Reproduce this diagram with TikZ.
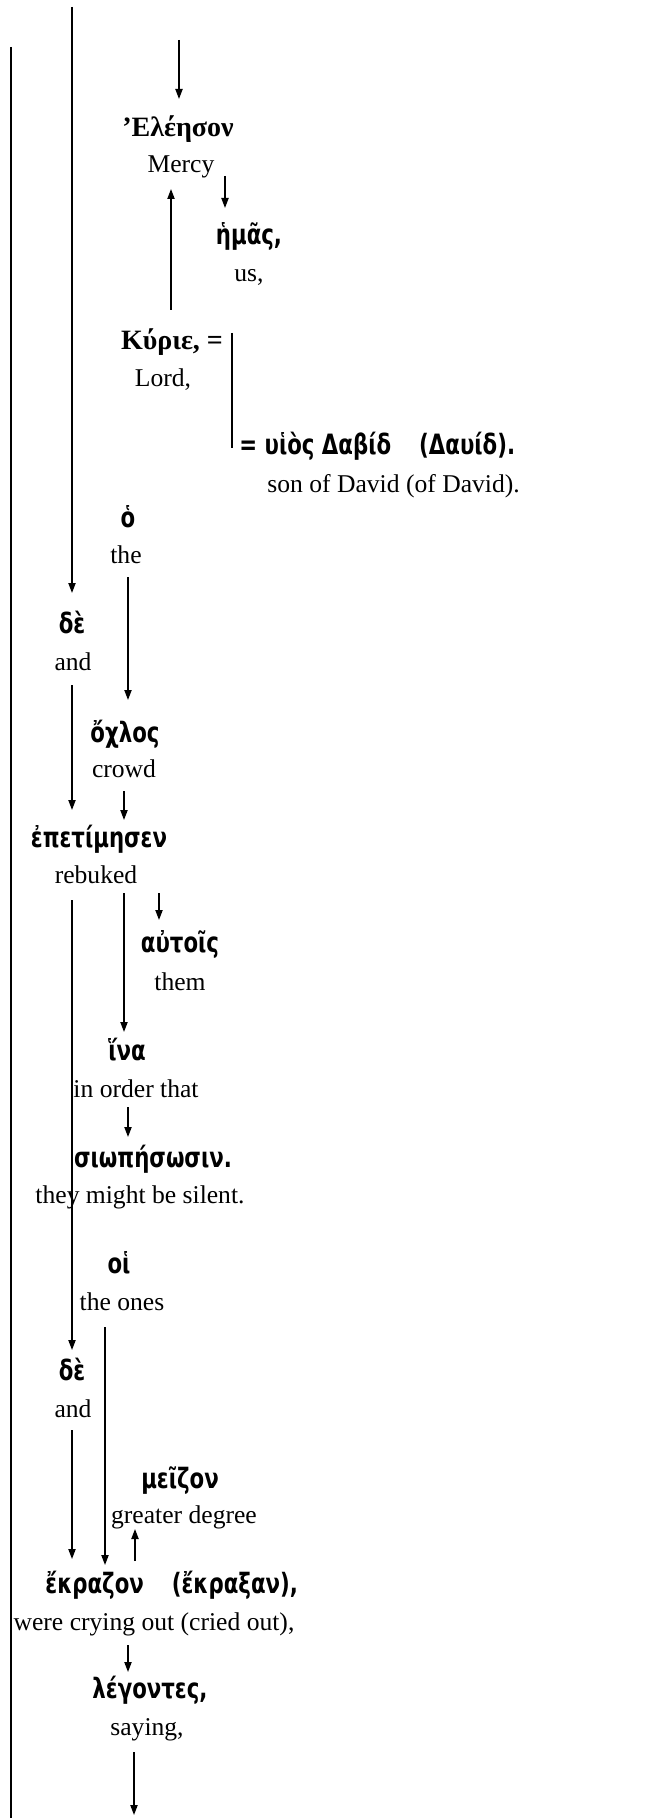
\documentclass[tikz,border=0pt]{standalone}
\usepackage{fontspec}
\setmainfont{Liberation Serif}
\newfontfamily\gk[FakeStretch=0.76]{DejaVu Sans}
\newfontfamily\gks{Liberation Serif}
\usetikzlibrary{calc,arrows.meta}
\begin{document}
\begin{tikzpicture}[x=0.5pt,y=-0.5pt,
 en/.style={anchor=base,inner sep=0pt,font=\fontsize{12.8}{15}\selectfont},
 gr/.style={anchor=base,inner sep=0pt,font=\fontsize{14}{16}\selectfont\gk\bfseries},
 grs/.style={anchor=base,inner sep=0pt,font=\fontsize{14}{16}\selectfont\gks\bfseries},
 arr/.style={line width=0.7pt,-{Triangle[length=5pt,width=3.6pt]}},
 ln/.style={line width=0.7pt}]
\useasboundingbox (0,0) rectangle (647,1818);
% nodes
\node[grs] (eleeson) at (178,137) {’Ελέησον};
\node[en] (mercy) at (181,173) {Mercy};
\node[gr] (hmas) at (249,245) {ἡμᾶς,};
\node[en] (us) at (249,282) {us,};
\node[grs] (kyrie) at (172,350) {Κύριε, =};
\node[en] (lord) at (163,387) {Lord,};
\node[gr,anchor=base west] (huios) at (239,455) {= υἱὸς Δαβίδ\quad(Δαυίδ).};
\node[en,anchor=base west] (sonof) at (267,492) {son of David (of David).};
\node[gr] (ho) at (128,527) {ὁ};
\node[en] (the) at (126,563) {the};
\node[gr] (de1) at (72,633) {δὲ};
\node[en] (and1) at (73,670) {and};
\node[gr] (ochlos) at (125,742) {ὄχλος};
\node[en] (crowd) at (124,777) {crowd};
\node[gr] (epet) at (99,847) {ἐπετίμησεν};
\node[en] (rebuked) at (96,883) {rebuked};
\node[gr] (autois) at (180,952) {αὐτοῖς};
\node[en] (them) at (180,990) {them};
\node[gr] (hina) at (127,1060) {ἵνα};
\node[en] (inorder) at (136,1097) {in order that};
\node[gr] (siop) at (153,1167) {σιωπήσωσιν.};
\node[en] (silent) at (140,1203) {they might be silent.};
\node[gr] (hoi) at (119,1273) {οἱ};
\node[en] (theones) at (122,1310) {the ones};
\node[gr] (de2) at (72,1380) {δὲ};
\node[en] (and2) at (73,1417) {and};
\node[gr] (meizon) at (180,1488) {μεῖζον};
\node[en] (greater) at (184,1523) {greater degree};
\node[gr,anchor=base west] (ekrazon) at (45,1593) {ἔκραζον\quad(ἔκραξαν),};
\node[en] (crying) at (154,1630) {were crying out (cried out),};
\node[gr] (legontes) at (150,1698) {λέγοντες,};
\node[en] (saying) at (147,1735) {saying,};
% free ends
\coordinate (l1top) at (11,47);
\coordinate (l1bot) at (11,1818);
\coordinate (l2top) at (72,7);
\coordinate (a1top) at (179,40);
\coordinate (a15end) at (134,1815);
% connectors
\draw[ln] (l1top) -- (l1bot);
\draw[arr] (l2top) -- ($(de1.base)+(0,-40)$);
\draw[arr] (a1top) -- ($(eleeson.base)+(1,-38)$);
\draw[arr] ($(mercy.base)+(44,3)$) -- ($(hmas.base)+(-24,-37)$);
\draw[arr] ($(kyrie.base)+(-1,-40)$) -- ($(mercy.base)+(-10,16)$);
\draw[ln] ($(kyrie.base)+(60,-17)$) -- ($(huios.base west)+(-7,-7)$);
\draw[arr] ($(the.base)+(2,14)$) -- ($(ochlos.base)+(3,-42)$);
\draw[arr] ($(and1.base)+(-1,15)$) -- ($(epet.base)+(-27,-37)$);
\draw[arr] ($(crowd.base)+(0,14)$) -- ($(epet.base)+(25,-27)$);
\draw[arr] ($(rebuked.base)+(-24,17)$) -- ($(de2.base)+(0,-30)$);
\draw[arr] ($(rebuked.base)+(28,10)$) -- ($(hina.base)+(-3,-28)$);
\draw[arr] ($(rebuked.base)+(63,10)$) -- ($(autois.base)+(-21,-32)$);
\draw[arr] ($(inorder.base)+(-8,10)$) -- ($(siop.base)+(-25,-30)$);
\draw[arr] ($(theones.base)+(-17,17)$) -- ($(ekrazon.base west)+(60,-28)$);
\draw[arr] ($(and2.base)+(-1,13)$) -- ($(ekrazon.base west)+(27,-34)$);
\draw[arr] ($(ekrazon.base west)+(90,-32)$) -- ($(greater.base)+(-49,6)$);
\draw[arr] ($(crying.base)+(-26,15)$) -- ($(legontes.base)+(-22,-26)$);
\draw[arr] ($(saying.base)+(-13,17)$) -- (a15end);
\end{tikzpicture}
\end{document}
